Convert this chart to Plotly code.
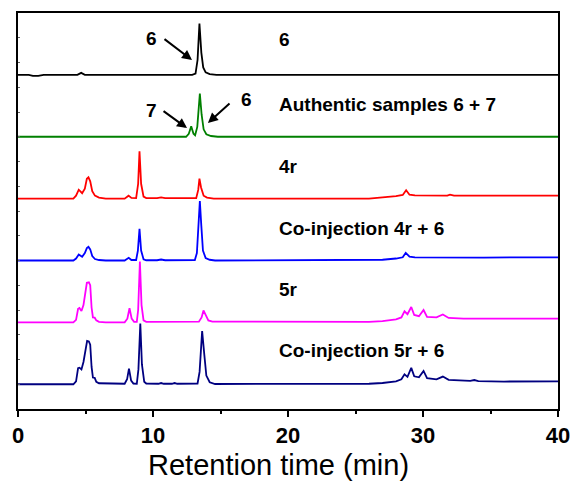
import plotly.graph_objects as go

# ---- data: (retention time [min], signal relative to trace baseline) ----
black_pts = [(0, 0), (0.8, 0), (1.1, -0.04), (1.5, -0.04), (1.9, 0), (4.4, 0), (4.68, 0.08), (4.95, 0),
             (12.9, 0), (13.15, 0.05), (13.3, 0.6), (13.44, 2.07), (13.58, 0.9), (13.72, 0.3), (13.9, 0.1),
             (14.2, 0.03), (14.7, 0), (40, 0)]
green_pts = [(0, 0), (12.45, 0), (12.65, 0.12), (12.83, 0.42), (13.0, 0.12), (13.12, 0.06), (13.28, 0.4),
             (13.38, 1.2), (13.47, 1.74), (13.6, 0.9), (13.75, 0.3), (13.95, 0.1), (14.3, 0.03), (14.8, 0), (40, 0)]
red_pts = [(0, 0), (4.1, 0), (4.3, 0.12), (4.5, 0.36), (4.75, 0.22), (4.95, 0.4), (5.1, 0.8), (5.22, 0.86),
           (5.35, 0.7), (5.5, 0.3), (5.7, 0.12), (6.0, 0.04), (6.5, 0), (7.9, 0), (8.19, 0.12), (8.4, 0.03),
           (8.75, 0.02), (8.9, 0.6), (9.0, 1.91), (9.12, 0.6), (9.3, 0.08), (9.5, 0.02), (10.3, 0.02),
           (10.6, 0.05), (10.9, 0.02), (13.2, 0.02), (13.35, 0.35), (13.44, 0.81), (13.56, 0.45), (13.75, 0.12),
           (14.0, 0.04), (14.5, 0), (26.0, 0), (27.0, 0.04), (28.0, 0.1), (28.5, 0.15), (28.75, 0.34),
           (29.0, 0.16), (29.4, 0.13), (31.8, 0.12), (32.0, 0.16), (32.3, 0.12), (34.0, 0.12), (34.2, 0.15),
           (34.5, 0.12), (40, 0.12)]
blue_pts = [(0, 0), (4.1, 0), (4.3, 0.08), (4.5, 0.24), (4.75, 0.15), (4.95, 0.3), (5.1, 0.5), (5.22, 0.55),
            (5.35, 0.45), (5.5, 0.18), (5.7, 0.06), (6.0, 0.02), (6.5, 0), (7.9, 0), (8.2, 0.11), (8.4, 0.02),
            (8.75, 0.02), (8.88, 0.4), (9.0, 1.28), (9.12, 0.4), (9.3, 0.05), (9.5, 0.01), (10.3, 0.01),
            (10.6, 0.04), (10.9, 0.01), (13.1, 0.02), (13.25, 0.3), (13.36, 1.3), (13.47, 2.4), (13.58, 1.4),
            (13.7, 0.4), (13.9, 0.1), (14.2, 0.03), (14.6, 0), (26.0, 0), (27.0, 0.03), (28.0, 0.08),
            (28.5, 0.13), (28.72, 0.31), (29.0, 0.16), (29.4, 0.13), (31.8, 0.12), (32.1, 0.14), (32.4, 0.12),
            (34.0, 0.12), (34.2, 0.14), (34.5, 0.12), (40, 0.13)]
magenta_pts = [(0, 0), (4.1, 0), (4.3, 0.1), (4.45, 0.55), (4.55, 0.58), (4.7, 0.46), (4.85, 0.7), (5.0, 1.2),
               (5.1, 1.6), (5.25, 1.62), (5.35, 1.5), (5.45, 0.6), (5.55, 0.2), (5.68, 0.19), (5.8, 0.08),
               (6.0, 0.02), (6.5, 0), (7.9, 0), (8.1, 0.15), (8.26, 0.57), (8.42, 0.15), (8.6, 0.02),
               (8.8, 0.02), (8.9, 0.5), (9.03, 2.46), (9.15, 0.7), (9.3, 0.08), (9.5, 0.02), (11.4, 0.02),
               (11.6, 0.05), (11.8, 0.02), (12.2, 0.02), (12.35, 0.05), (12.5, 0.02), (13.4, 0.03),
               (13.6, 0.2), (13.74, 0.48), (13.9, 0.3), (14.1, 0.08), (14.4, 0.03), (26.0, 0.02), (27.0, 0.05),
               (28.0, 0.12), (28.4, 0.2), (28.63, 0.45), (28.85, 0.33), (29.13, 0.62), (29.35, 0.3),
               (29.7, 0.25), (30.04, 0.5), (30.3, 0.22), (31.0, 0.2), (31.47, 0.32), (31.9, 0.18),
               (33.0, 0.15), (40, 0.15)]
navy_pts = [(0, 0), (4.1, 0), (4.3, 0.12), (4.45, 0.65), (4.55, 0.67), (4.7, 0.6), (4.85, 0.9), (5.0, 1.4),
            (5.12, 1.75), (5.25, 1.73), (5.35, 1.6), (5.45, 0.7), (5.55, 0.27), (5.68, 0.26), (5.8, 0.1),
            (6.0, 0.04), (6.5, 0.02), (7.0, 0.03), (7.9, 0.02), (8.08, 0.2), (8.22, 0.63), (8.38, 0.15),
            (8.55, 0.03), (8.8, 0.02), (8.92, 0.6), (9.06, 2.45), (9.18, 0.8), (9.35, 0.1), (9.5, 0.03),
            (10.4, 0.02), (10.6, 0.05), (10.8, 0.02), (11.4, 0.02), (11.6, 0.05), (11.8, 0.02), (12.2, 0.02),
            (12.35, 0.05), (12.5, 0.02), (13.3, 0.03), (13.45, 0.5), (13.64, 2.15), (13.8, 1.2),
            (13.95, 0.35), (14.2, 0.08), (14.6, 0.01), (26.0, 0.02), (27.0, 0.05), (28.0, 0.12), (28.4, 0.2),
            (28.63, 0.4), (28.85, 0.3), (29.13, 0.66), (29.35, 0.32), (29.7, 0.28), (30.04, 0.54),
            (30.3, 0.25), (31.0, 0.2), (31.47, 0.31), (31.9, 0.18), (33.5, 0.14), (33.8, 0.17), (34.1, 0.13),
            (35.5, 0.12), (35.7, 0.14), (36.0, 0.11), (40, 0.12)]

series = [black_pts, green_pts, red_pts, blue_pts, magenta_pts, navy_pts]
sample_names = ["6", "Authentic samples 6 + 7", "4r", "Co-injection 4r + 6", "5r", "Co-injection 5r + 6"]
x_ticks = [0, 10, 20, 30, 40]
x_title = "Retention time (min)"

# ---- styling / positions ----
colors = ["#000000", "#008000", "#ff0000", "#0000ff", "#ff00ff", "#000080"]
offsets = [13.5, 11.0, 8.5, 6.0, 3.5, 1.0]
label_y = [14.91, 12.32, 9.80, 7.28, 4.81, 2.37]
label_x = 19.2

fig = go.Figure()
for pts, c, off in zip(series, colors, offsets):
    fig.add_trace(go.Scatter(
        x=[p[0] for p in pts], y=[p[1] + off for p in pts],
        mode="lines", line=dict(color=c, width=1.8), showlegend=False, hoverinfo="skip"))

FONT = "Liberation Sans, Arial, sans-serif"
bold = dict(family=FONT, size=19, color="black", weight="bold")
annotations = []
for name, ly in zip(sample_names, label_y):
    annotations.append(dict(x=label_x, y=ly, xref="x", yref="y", text=name, showarrow=False,
                            xanchor="left", yanchor="middle", font=bold))

# peak markers: text + arrows
marks = [("6", 9.88, 14.99), ("7", 9.88, 12.08), ("6", 16.9, 12.51)]
for t, mx, my in marks:
    annotations.append(dict(x=mx, y=my, xref="x", yref="y", text=t, showarrow=False,
                            xanchor="center", yanchor="middle", font=bold))
arrows = [((10.74, 14.99), (12.89, 14.10)), ((10.67, 12.08), (12.52, 11.35)), ((15.78, 12.40), (14.07, 11.56))]
for (tx, ty), (hx, hy) in arrows:
    annotations.append(dict(x=hx, y=hy, ax=tx, ay=ty, xref="x", yref="y", axref="x", ayref="y",
                            text="", showarrow=True, arrowhead=2, arrowsize=1, arrowwidth=2,
                            arrowcolor="black", standoff=0, startstandoff=0))

# x-axis title (slightly left of centre, as in the original)
annotations.append(dict(x=19.33, y=-0.1414, xref="x", yref="paper", text=x_title, showarrow=False,
                        xanchor="center", yanchor="middle",
                        font=dict(family=FONT, size=29, color="black")))

fig.update_layout(
    width=571, height=484,
    margin=dict(l=18, r=13, t=13, b=75, autoexpand=False),
    paper_bgcolor="white", plot_bgcolor="white",
    annotations=annotations,
    font=dict(family=FONT, color="black"),
)
fig.update_xaxes(
    range=[0, 40], tickvals=x_ticks, ticktext=[str(v) for v in x_ticks],
    ticks="outside", ticklen=6, tickwidth=1.5, tickcolor="black",
    minor=dict(dtick=5, ticks="outside", ticklen=3, tickwidth=1.5, tickcolor="black"),
    showline=True, linewidth=1.5, linecolor="black", mirror=True,
    showgrid=False, zeroline=False, automargin=False,
    tickfont=dict(family=FONT, size=22, color="black", weight="bold"),
)
fig.update_yaxes(
    range=[0, 16], dtick=1, tick0=0, showticklabels=False,
    ticks="inside", ticklen=2, tickwidth=1, tickcolor="#666",
    showline=True, linewidth=1.5, linecolor="black", mirror=True,
    showgrid=False, zeroline=False, automargin=False,
)

fig.write_html("out.html")
